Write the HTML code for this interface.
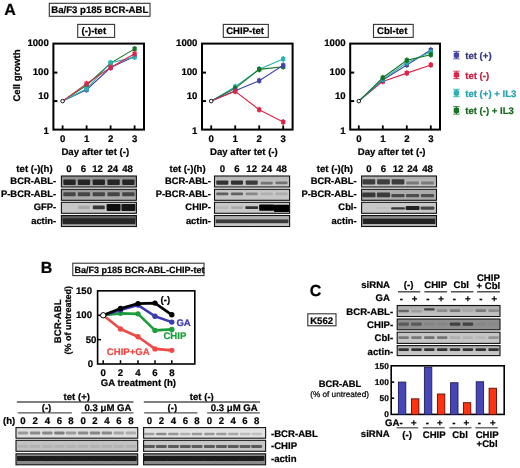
<!DOCTYPE html>
<html><head><meta charset="utf-8"><style>
html,body{margin:0;padding:0;background:#fff;}
svg{display:block;font-family:"Liberation Sans", sans-serif;filter:blur(0.3px);text-rendering:geometricPrecision;}
</style></head><body>
<svg width="520" height="468" viewBox="0 0 520 468">
<defs><filter id="bl" x="-20%" y="-50%" width="140%" height="200%"><feGaussianBlur stdDeviation="0.7"/></filter></defs>
<rect width="520" height="468" fill="#fff"/>
<text x="4.3" y="15.2" font-size="16" text-anchor="start" font-weight="bold" fill="#000" stroke="#000" stroke-width="0.22" >A</text>
<rect x="49.3" y="3.3" width="100.7" height="13.0" fill="#fff" stroke="#333" stroke-width="1.1"/>
<text x="51.3" y="13.4" font-size="9.6" text-anchor="start" font-weight="bold" fill="#000" stroke="#000" stroke-width="0.22" >Ba/F3 p185 BCR-ABL</text>
<rect x="77.7" y="24.4" width="36.89999999999999" height="13.0" fill="#fff" stroke="#333" stroke-width="1.1"/>
<text x="81.6" y="34.1" font-size="9.6" text-anchor="start" font-weight="bold" fill="#000" stroke="#000" stroke-width="0.22" >(-)-tet</text>
<rect x="53.4" y="43.6" width="90.6" height="86.0" fill="none" stroke="#000" stroke-width="2"/>
<line x1="53.4" y1="72.60" x2="57.4" y2="72.60" stroke="#000" stroke-width="2"/>
<line x1="53.4" y1="101.10" x2="57.4" y2="101.10" stroke="#000" stroke-width="2"/>
<line x1="62.60" y1="129.6" x2="62.60" y2="125.39999999999999" stroke="#000" stroke-width="1.8"/>
<line x1="86.60" y1="129.6" x2="86.60" y2="125.39999999999999" stroke="#000" stroke-width="1.8"/>
<line x1="110.60" y1="129.6" x2="110.60" y2="125.39999999999999" stroke="#000" stroke-width="1.8"/>
<line x1="134.60" y1="129.6" x2="134.60" y2="125.39999999999999" stroke="#000" stroke-width="1.8"/>
<text x="48.8" y="45.5" font-size="9.6" text-anchor="end" font-weight="bold" fill="#000" stroke="#000" stroke-width="0.22" >1000</text>
<text x="48.8" y="74.9" font-size="9.6" text-anchor="end" font-weight="bold" fill="#000" stroke="#000" stroke-width="0.22" >100</text>
<text x="48.8" y="99.4" font-size="9.6" text-anchor="end" font-weight="bold" fill="#000" stroke="#000" stroke-width="0.22" >10</text>
<text x="48.8" y="134.2" font-size="9.6" text-anchor="end" font-weight="bold" fill="#000" stroke="#000" stroke-width="0.22" >1</text>
<text x="62.599999999999994" y="141.9" font-size="9.6" text-anchor="middle" font-weight="bold" fill="#000" stroke="#000" stroke-width="0.22" >0</text>
<text x="86.6" y="141.9" font-size="9.6" text-anchor="middle" font-weight="bold" fill="#000" stroke="#000" stroke-width="0.22" >1</text>
<text x="110.6" y="141.9" font-size="9.6" text-anchor="middle" font-weight="bold" fill="#000" stroke="#000" stroke-width="0.22" >2</text>
<text x="134.6" y="141.9" font-size="9.6" text-anchor="middle" font-weight="bold" fill="#000" stroke="#000" stroke-width="0.22" >3</text>
<text x="95.3" y="154.6" font-size="9.6" text-anchor="middle" font-weight="bold" fill="#000" stroke="#000" stroke-width="0.22" >Day after tet (-)</text>
<polyline points="62.60,101.10 86.60,89.76 110.60,67.58 134.60,56.41" fill="none" stroke="#4444a8" stroke-width="1.1"/>
<polyline points="62.60,101.10 86.60,85.25 110.60,63.13 134.60,48.87" fill="none" stroke="#147420" stroke-width="1.1"/>
<polyline points="62.60,101.10 86.60,88.81 110.60,62.73 134.60,57.09" fill="none" stroke="#28b2b2" stroke-width="1.1"/>
<polyline points="62.60,101.10 86.60,83.64 110.60,67.50 134.60,53.71" fill="none" stroke="#e02448" stroke-width="1.1"/>
<rect x="85.90" y="86.86" width="1.4" height="5.8" fill="#4444a8"/>
<rect x="84.50" y="87.66" width="4.2" height="4.2" fill="#4444a8"/>
<rect x="109.90" y="64.68" width="1.4" height="5.8" fill="#4444a8"/>
<rect x="108.50" y="65.48" width="4.2" height="4.2" fill="#4444a8"/>
<rect x="133.90" y="53.51" width="1.4" height="5.8" fill="#4444a8"/>
<rect x="132.50" y="54.31" width="4.2" height="4.2" fill="#4444a8"/>
<rect x="85.90" y="82.35" width="1.4" height="5.8" fill="#147420"/>
<rect x="84.50" y="83.15" width="4.2" height="4.2" fill="#147420"/>
<rect x="109.90" y="60.23" width="1.4" height="5.8" fill="#147420"/>
<rect x="108.50" y="61.03" width="4.2" height="4.2" fill="#147420"/>
<rect x="133.90" y="45.97" width="1.4" height="5.8" fill="#147420"/>
<rect x="132.50" y="46.77" width="4.2" height="4.2" fill="#147420"/>
<rect x="85.90" y="85.91" width="1.4" height="5.8" fill="#28b2b2"/>
<rect x="84.50" y="86.71" width="4.2" height="4.2" fill="#28b2b2"/>
<rect x="109.90" y="59.83" width="1.4" height="5.8" fill="#28b2b2"/>
<rect x="108.50" y="60.63" width="4.2" height="4.2" fill="#28b2b2"/>
<rect x="133.90" y="54.19" width="1.4" height="5.8" fill="#28b2b2"/>
<rect x="132.50" y="54.99" width="4.2" height="4.2" fill="#28b2b2"/>
<rect x="85.90" y="80.74" width="1.4" height="5.8" fill="#e02448"/>
<rect x="84.50" y="81.54" width="4.2" height="4.2" fill="#e02448"/>
<rect x="109.90" y="64.60" width="1.4" height="5.8" fill="#e02448"/>
<rect x="108.50" y="65.40" width="4.2" height="4.2" fill="#e02448"/>
<rect x="133.90" y="50.81" width="1.4" height="5.8" fill="#e02448"/>
<rect x="132.50" y="51.61" width="4.2" height="4.2" fill="#e02448"/>
<circle cx="62.60" cy="101.10" r="1.8" fill="#fff" stroke="#000" stroke-width="0.9"/>
<rect x="223.3" y="24.4" width="45.0" height="13.0" fill="#fff" stroke="#333" stroke-width="1.1"/>
<text x="226.2" y="34.1" font-size="9.6" text-anchor="start" font-weight="bold" fill="#000" stroke="#000" stroke-width="0.22" >CHIP-tet</text>
<rect x="202.0" y="43.6" width="90.60000000000002" height="86.0" fill="none" stroke="#000" stroke-width="2"/>
<line x1="202.0" y1="72.60" x2="206.0" y2="72.60" stroke="#000" stroke-width="2"/>
<line x1="202.0" y1="101.10" x2="206.0" y2="101.10" stroke="#000" stroke-width="2"/>
<line x1="211.20" y1="129.6" x2="211.20" y2="125.39999999999999" stroke="#000" stroke-width="1.8"/>
<line x1="235.20" y1="129.6" x2="235.20" y2="125.39999999999999" stroke="#000" stroke-width="1.8"/>
<line x1="259.20" y1="129.6" x2="259.20" y2="125.39999999999999" stroke="#000" stroke-width="1.8"/>
<line x1="283.20" y1="129.6" x2="283.20" y2="125.39999999999999" stroke="#000" stroke-width="1.8"/>
<text x="197.4" y="45.5" font-size="9.6" text-anchor="end" font-weight="bold" fill="#000" stroke="#000" stroke-width="0.22" >1000</text>
<text x="197.4" y="74.9" font-size="9.6" text-anchor="end" font-weight="bold" fill="#000" stroke="#000" stroke-width="0.22" >100</text>
<text x="197.4" y="99.4" font-size="9.6" text-anchor="end" font-weight="bold" fill="#000" stroke="#000" stroke-width="0.22" >10</text>
<text x="197.4" y="134.2" font-size="9.6" text-anchor="end" font-weight="bold" fill="#000" stroke="#000" stroke-width="0.22" >1</text>
<text x="211.2" y="141.9" font-size="9.6" text-anchor="middle" font-weight="bold" fill="#000" stroke="#000" stroke-width="0.22" >0</text>
<text x="235.2" y="141.9" font-size="9.6" text-anchor="middle" font-weight="bold" fill="#000" stroke="#000" stroke-width="0.22" >1</text>
<text x="259.2" y="141.9" font-size="9.6" text-anchor="middle" font-weight="bold" fill="#000" stroke="#000" stroke-width="0.22" >2</text>
<text x="283.2" y="141.9" font-size="9.6" text-anchor="middle" font-weight="bold" fill="#000" stroke="#000" stroke-width="0.22" >3</text>
<text x="243.9" y="154.6" font-size="9.6" text-anchor="middle" font-weight="bold" fill="#000" stroke="#000" stroke-width="0.22" >Day after tet (-)</text>
<polyline points="211.20,101.10 235.20,86.70 259.20,69.35 283.20,59.00" fill="none" stroke="#28b2b2" stroke-width="1.1"/>
<polyline points="211.20,101.10 235.20,88.36 259.20,69.35 283.20,66.78" fill="none" stroke="#147420" stroke-width="1.1"/>
<polyline points="211.20,101.10 235.20,90.79 259.20,80.69 283.20,65.32" fill="none" stroke="#4444a8" stroke-width="1.1"/>
<polyline points="211.20,101.10 235.20,91.34 259.20,109.68 283.20,121.99" fill="none" stroke="#e02448" stroke-width="1.1"/>
<rect x="234.50" y="83.80" width="1.4" height="5.8" fill="#28b2b2"/>
<rect x="233.10" y="84.60" width="4.2" height="4.2" fill="#28b2b2"/>
<rect x="258.50" y="66.45" width="1.4" height="5.8" fill="#28b2b2"/>
<rect x="257.10" y="67.25" width="4.2" height="4.2" fill="#28b2b2"/>
<rect x="282.50" y="56.10" width="1.4" height="5.8" fill="#28b2b2"/>
<rect x="281.10" y="56.90" width="4.2" height="4.2" fill="#28b2b2"/>
<rect x="234.50" y="85.46" width="1.4" height="5.8" fill="#147420"/>
<rect x="233.10" y="86.26" width="4.2" height="4.2" fill="#147420"/>
<rect x="258.50" y="66.45" width="1.4" height="5.8" fill="#147420"/>
<rect x="257.10" y="67.25" width="4.2" height="4.2" fill="#147420"/>
<rect x="282.50" y="63.88" width="1.4" height="5.8" fill="#147420"/>
<rect x="281.10" y="64.68" width="4.2" height="4.2" fill="#147420"/>
<rect x="234.50" y="87.89" width="1.4" height="5.8" fill="#4444a8"/>
<rect x="233.10" y="88.69" width="4.2" height="4.2" fill="#4444a8"/>
<rect x="258.50" y="77.79" width="1.4" height="5.8" fill="#4444a8"/>
<rect x="257.10" y="78.59" width="4.2" height="4.2" fill="#4444a8"/>
<rect x="282.50" y="62.42" width="1.4" height="5.8" fill="#4444a8"/>
<rect x="281.10" y="63.22" width="4.2" height="4.2" fill="#4444a8"/>
<rect x="234.50" y="88.44" width="1.4" height="5.8" fill="#e02448"/>
<rect x="233.10" y="89.24" width="4.2" height="4.2" fill="#e02448"/>
<rect x="258.50" y="106.78" width="1.4" height="5.8" fill="#e02448"/>
<rect x="257.10" y="107.58" width="4.2" height="4.2" fill="#e02448"/>
<rect x="282.50" y="119.09" width="1.4" height="5.8" fill="#e02448"/>
<rect x="281.10" y="119.89" width="4.2" height="4.2" fill="#e02448"/>
<circle cx="211.20" cy="101.10" r="1.8" fill="#fff" stroke="#000" stroke-width="0.9"/>
<rect x="373.5" y="24.4" width="39.69999999999999" height="13.0" fill="#fff" stroke="#333" stroke-width="1.1"/>
<text x="377.0" y="34.1" font-size="9.6" text-anchor="start" font-weight="bold" fill="#000" stroke="#000" stroke-width="0.22" >Cbl-tet</text>
<rect x="350.2" y="43.6" width="89.80000000000001" height="86.0" fill="none" stroke="#000" stroke-width="2"/>
<line x1="350.2" y1="72.60" x2="354.2" y2="72.60" stroke="#000" stroke-width="2"/>
<line x1="350.2" y1="101.10" x2="354.2" y2="101.10" stroke="#000" stroke-width="2"/>
<line x1="358.80" y1="129.6" x2="358.80" y2="125.39999999999999" stroke="#000" stroke-width="1.8"/>
<line x1="382.80" y1="129.6" x2="382.80" y2="125.39999999999999" stroke="#000" stroke-width="1.8"/>
<line x1="406.80" y1="129.6" x2="406.80" y2="125.39999999999999" stroke="#000" stroke-width="1.8"/>
<line x1="430.80" y1="129.6" x2="430.80" y2="125.39999999999999" stroke="#000" stroke-width="1.8"/>
<text x="345.59999999999997" y="45.5" font-size="9.6" text-anchor="end" font-weight="bold" fill="#000" stroke="#000" stroke-width="0.22" >1000</text>
<text x="345.59999999999997" y="74.9" font-size="9.6" text-anchor="end" font-weight="bold" fill="#000" stroke="#000" stroke-width="0.22" >100</text>
<text x="345.59999999999997" y="99.4" font-size="9.6" text-anchor="end" font-weight="bold" fill="#000" stroke="#000" stroke-width="0.22" >10</text>
<text x="345.59999999999997" y="134.2" font-size="9.6" text-anchor="end" font-weight="bold" fill="#000" stroke="#000" stroke-width="0.22" >1</text>
<text x="358.8" y="141.9" font-size="9.6" text-anchor="middle" font-weight="bold" fill="#000" stroke="#000" stroke-width="0.22" >0</text>
<text x="382.8" y="141.9" font-size="9.6" text-anchor="middle" font-weight="bold" fill="#000" stroke="#000" stroke-width="0.22" >1</text>
<text x="406.8" y="141.9" font-size="9.6" text-anchor="middle" font-weight="bold" fill="#000" stroke="#000" stroke-width="0.22" >2</text>
<text x="430.8" y="141.9" font-size="9.6" text-anchor="middle" font-weight="bold" fill="#000" stroke="#000" stroke-width="0.22" >3</text>
<text x="391.70000000000005" y="154.6" font-size="9.6" text-anchor="middle" font-weight="bold" fill="#000" stroke="#000" stroke-width="0.22" >Day after tet (-)</text>
<polyline points="358.80,101.10 382.80,81.43 406.80,73.11 430.80,64.92" fill="none" stroke="#e02448" stroke-width="1.1"/>
<polyline points="358.80,101.10 382.80,80.00 406.80,64.92 430.80,50.02" fill="none" stroke="#4444a8" stroke-width="1.1"/>
<polyline points="358.80,101.10 382.80,79.34 406.80,62.56 430.80,52.10" fill="none" stroke="#28b2b2" stroke-width="1.1"/>
<polyline points="358.80,101.10 382.80,77.74 406.80,60.31 430.80,54.69" fill="none" stroke="#147420" stroke-width="1.1"/>
<rect x="382.10" y="78.53" width="1.4" height="5.8" fill="#e02448"/>
<rect x="380.70" y="79.33" width="4.2" height="4.2" fill="#e02448"/>
<rect x="406.10" y="70.21" width="1.4" height="5.8" fill="#e02448"/>
<rect x="404.70" y="71.01" width="4.2" height="4.2" fill="#e02448"/>
<rect x="430.10" y="62.02" width="1.4" height="5.8" fill="#e02448"/>
<rect x="428.70" y="62.82" width="4.2" height="4.2" fill="#e02448"/>
<rect x="382.10" y="77.10" width="1.4" height="5.8" fill="#4444a8"/>
<rect x="380.70" y="77.90" width="4.2" height="4.2" fill="#4444a8"/>
<rect x="406.10" y="62.02" width="1.4" height="5.8" fill="#4444a8"/>
<rect x="404.70" y="62.82" width="4.2" height="4.2" fill="#4444a8"/>
<rect x="430.10" y="47.12" width="1.4" height="5.8" fill="#4444a8"/>
<rect x="428.70" y="47.92" width="4.2" height="4.2" fill="#4444a8"/>
<rect x="382.10" y="76.44" width="1.4" height="5.8" fill="#28b2b2"/>
<rect x="380.70" y="77.24" width="4.2" height="4.2" fill="#28b2b2"/>
<rect x="406.10" y="59.66" width="1.4" height="5.8" fill="#28b2b2"/>
<rect x="404.70" y="60.46" width="4.2" height="4.2" fill="#28b2b2"/>
<rect x="430.10" y="49.20" width="1.4" height="5.8" fill="#28b2b2"/>
<rect x="428.70" y="50.00" width="4.2" height="4.2" fill="#28b2b2"/>
<rect x="382.10" y="74.84" width="1.4" height="5.8" fill="#147420"/>
<rect x="380.70" y="75.64" width="4.2" height="4.2" fill="#147420"/>
<rect x="406.10" y="57.41" width="1.4" height="5.8" fill="#147420"/>
<rect x="404.70" y="58.21" width="4.2" height="4.2" fill="#147420"/>
<rect x="430.10" y="51.79" width="1.4" height="5.8" fill="#147420"/>
<rect x="428.70" y="52.59" width="4.2" height="4.2" fill="#147420"/>
<circle cx="358.80" cy="101.10" r="1.8" fill="#fff" stroke="#000" stroke-width="0.9"/>
<text transform="translate(20.0,101.6) rotate(-90)" font-size="9.6" font-weight="bold" stroke="#000" stroke-width="0.22">Cell growth</text>
<line x1="453.2" y1="51.40" x2="459.6" y2="51.40" stroke="#4444a8" stroke-width="0.9"/>
<line x1="453.2" y1="58.80" x2="459.6" y2="58.80" stroke="#4444a8" stroke-width="0.9"/>
<line x1="456.4" y1="51.40" x2="456.4" y2="58.80" stroke="#4444a8" stroke-width="1.2"/>
<rect x="453.7" y="52.40" width="5.4" height="5.4" rx="1.4" fill="#4444a8"/>
<text x="465.2" y="58.7" font-size="9.6" text-anchor="start" font-weight="bold" fill="#36367e" stroke="#36367e" stroke-width="0.22" >tet (+)</text>
<line x1="453.2" y1="71.20" x2="459.6" y2="71.20" stroke="#e02448" stroke-width="0.9"/>
<line x1="453.2" y1="78.60" x2="459.6" y2="78.60" stroke="#e02448" stroke-width="0.9"/>
<line x1="456.4" y1="71.20" x2="456.4" y2="78.60" stroke="#e02448" stroke-width="1.2"/>
<rect x="453.7" y="72.20" width="5.4" height="5.4" rx="1.4" fill="#e02448"/>
<text x="465.2" y="78.5" font-size="9.6" text-anchor="start" font-weight="bold" fill="#c81a3a" stroke="#c81a3a" stroke-width="0.22" >tet (-)</text>
<line x1="453.2" y1="89.30" x2="459.6" y2="89.30" stroke="#28b2b2" stroke-width="0.9"/>
<line x1="453.2" y1="96.70" x2="459.6" y2="96.70" stroke="#28b2b2" stroke-width="0.9"/>
<line x1="456.4" y1="89.30" x2="456.4" y2="96.70" stroke="#28b2b2" stroke-width="1.2"/>
<rect x="453.7" y="90.30" width="5.4" height="5.4" rx="1.4" fill="#28b2b2"/>
<text x="465.2" y="96.6" font-size="9.6" text-anchor="start" font-weight="bold" fill="#26a2aa" stroke="#26a2aa" stroke-width="0.22" >tet (+) + IL3</text>
<line x1="453.2" y1="106.70" x2="459.6" y2="106.70" stroke="#147420" stroke-width="0.9"/>
<line x1="453.2" y1="114.10" x2="459.6" y2="114.10" stroke="#147420" stroke-width="0.9"/>
<line x1="456.4" y1="106.70" x2="456.4" y2="114.10" stroke="#147420" stroke-width="1.2"/>
<rect x="453.7" y="107.70" width="5.4" height="5.4" rx="1.4" fill="#147420"/>
<text x="465.2" y="114.0" font-size="9.6" text-anchor="start" font-weight="bold" fill="#166a1e" stroke="#166a1e" stroke-width="0.22" >tet (-) + IL3</text>
<linearGradient id="g1" x1="0" y1="0" x2="0" y2="1"><stop offset="0" stop-color="#8c8c8c"/><stop offset="1" stop-color="#ababab"/></linearGradient>
<rect x="61.4" y="176.0" width="75.0" height="11.0" fill="url(#g1)"/>
<g filter="url(#bl)">
<rect x="63.35" y="179.40" width="12.30" height="5.60" rx="0.80" fill="#262626"/>
<rect x="77.85" y="179.40" width="12.30" height="5.60" rx="0.80" fill="#262626"/>
<rect x="92.65" y="179.40" width="12.30" height="5.60" rx="0.80" fill="#262626"/>
<rect x="107.45" y="179.40" width="12.30" height="5.60" rx="0.80" fill="#262626"/>
<rect x="122.25" y="179.40" width="12.30" height="5.60" rx="0.80" fill="#262626"/>
</g>
<rect x="61.4" y="176.0" width="75.0" height="11.0" fill="none" stroke="#111" stroke-width="1.1"/>
<text x="56.2" y="184.0" font-size="9.4" text-anchor="end" font-weight="bold" fill="#000" stroke="#000" stroke-width="0.22" >BCR-ABL-</text>
<linearGradient id="g2" x1="0" y1="0" x2="0" y2="1"><stop offset="0" stop-color="#969696"/><stop offset="1" stop-color="#b0b0b0"/></linearGradient>
<rect x="61.4" y="189.3" width="75.0" height="11.0" fill="url(#g2)"/>
<g filter="url(#bl)">
<rect x="63.35" y="192.30" width="12.30" height="4.00" rx="0.80" fill="#444"/>
<rect x="77.85" y="192.30" width="12.30" height="4.00" rx="0.80" fill="#444"/>
<rect x="92.65" y="192.30" width="12.30" height="4.00" rx="0.80" fill="#444"/>
<rect x="107.45" y="192.30" width="12.30" height="4.00" rx="0.80" fill="#444"/>
<rect x="122.25" y="192.30" width="12.30" height="4.00" rx="0.80" fill="#444"/>
</g>
<rect x="61.4" y="189.3" width="75.0" height="11.0" fill="none" stroke="#111" stroke-width="1.1"/>
<text x="56.2" y="197.3" font-size="9.4" text-anchor="end" font-weight="bold" fill="#000" stroke="#000" stroke-width="0.22" >P-BCR-ABL-</text>
<rect x="61.4" y="202.3" width="75.0" height="11.0" fill="#c6c6c6"/>
<g filter="url(#bl)">
<rect x="78.18" y="205.72" width="11.64" height="3.36" rx="0.80" fill="#a8a8a8"/>
<rect x="92.83" y="205.44" width="11.93" height="3.92" rx="0.80" fill="#363636"/>
<rect x="106.62" y="203.90" width="13.97" height="7.00" rx="0.80" fill="#101010"/>
<rect x="121.42" y="203.90" width="13.97" height="7.00" rx="0.80" fill="#121212"/>
</g>
<rect x="61.4" y="202.3" width="75.0" height="11.0" fill="none" stroke="#111" stroke-width="1.1"/>
<text x="56.2" y="210.3" font-size="9.4" text-anchor="end" font-weight="bold" fill="#000" stroke="#000" stroke-width="0.22" >GFP-</text>
<linearGradient id="g3" x1="0" y1="0" x2="0" y2="1"><stop offset="0" stop-color="#555"/><stop offset="0.5" stop-color="#777"/><stop offset="1" stop-color="#bcbcbc"/></linearGradient>
<rect x="61.4" y="215.5" width="75.0" height="11.0" fill="url(#g3)"/>
<g filter="url(#bl)">
<rect x="62.6" y="218.20" width="72.60" height="6.00" fill="#262626"/>
</g>
<rect x="61.4" y="215.5" width="75.0" height="11.0" fill="none" stroke="#111" stroke-width="1.1"/>
<text x="56.2" y="223.5" font-size="9.4" text-anchor="end" font-weight="bold" fill="#000" stroke="#000" stroke-width="0.22" >actin-</text>
<text x="52.6" y="171.8" font-size="9.6" text-anchor="end" font-weight="bold" fill="#000" stroke="#000" stroke-width="0.22" >tet (-)(h)</text>
<text x="68.9" y="171.8" font-size="9.6" text-anchor="middle" font-weight="bold" fill="#000" stroke="#000" stroke-width="0.22" >0</text>
<text x="83.5" y="171.8" font-size="9.6" text-anchor="middle" font-weight="bold" fill="#000" stroke="#000" stroke-width="0.22" >6</text>
<text x="97.5" y="171.8" font-size="9.6" text-anchor="middle" font-weight="bold" fill="#000" stroke="#000" stroke-width="0.22" >12</text>
<text x="112.8" y="171.8" font-size="9.6" text-anchor="middle" font-weight="bold" fill="#000" stroke="#000" stroke-width="0.22" >24</text>
<text x="127.5" y="171.8" font-size="9.6" text-anchor="middle" font-weight="bold" fill="#000" stroke="#000" stroke-width="0.22" >48</text>
<linearGradient id="g4" x1="0" y1="0" x2="0" y2="1"><stop offset="0" stop-color="#b4b4b4"/><stop offset="1" stop-color="#cacaca"/></linearGradient>
<rect x="214.5" y="176.0" width="75.10000000000002" height="11.0" fill="url(#g4)"/>
<g filter="url(#bl)">
<rect x="216.29" y="180.50" width="12.02" height="4.20" rx="0.80" fill="#333"/>
<rect x="230.99" y="180.50" width="12.02" height="4.20" rx="0.80" fill="#333"/>
<rect x="245.69" y="180.50" width="12.02" height="4.20" rx="0.80" fill="#3a3a3a"/>
<rect x="260.69" y="181.63" width="12.02" height="2.94" rx="0.80" fill="#747474"/>
<rect x="275.49" y="181.43" width="12.02" height="2.94" rx="0.80" fill="#727272"/>
</g>
<rect x="214.5" y="176.0" width="75.10000000000002" height="11.0" fill="none" stroke="#111" stroke-width="1.1"/>
<text x="210.9" y="184.0" font-size="9.4" text-anchor="end" font-weight="bold" fill="#000" stroke="#000" stroke-width="0.22" >BCR-ABL-</text>
<rect x="214.5" y="189.3" width="75.10000000000002" height="11.0" fill="#c6c6c6"/>
<g filter="url(#bl)">
<rect x="216.29" y="192.40" width="12.02" height="2.80" rx="0.80" fill="#5e5e5e"/>
<rect x="230.99" y="192.40" width="12.02" height="2.80" rx="0.80" fill="#626262"/>
<rect x="245.69" y="192.40" width="12.02" height="2.80" rx="0.80" fill="#888"/>
<rect x="260.69" y="192.40" width="12.02" height="2.80" rx="0.80" fill="#b0b0b0"/>
<rect x="275.49" y="192.40" width="12.02" height="2.80" rx="0.80" fill="#acacac"/>
</g>
<rect x="214.5" y="189.3" width="75.10000000000002" height="11.0" fill="none" stroke="#111" stroke-width="1.1"/>
<text x="210.9" y="197.3" font-size="9.4" text-anchor="end" font-weight="bold" fill="#000" stroke="#000" stroke-width="0.22" >P-BCR-ABL-</text>
<rect x="214.5" y="202.3" width="75.10000000000002" height="11.0" fill="#c8c8c8"/>
<g filter="url(#bl)">
<rect x="216.29" y="206.32" width="12.02" height="2.56" rx="0.80" fill="#b8b8b8"/>
<rect x="230.99" y="206.32" width="12.02" height="2.56" rx="0.80" fill="#aaaaaa"/>
<rect x="245.32" y="206.16" width="12.77" height="2.88" rx="0.80" fill="#303030"/>
<rect x="259.19" y="204.40" width="15.02" height="6.40" rx="0.80" fill="#030303"/>
<rect x="273.99" y="204.72" width="15.02" height="7.36" rx="0.80" fill="#000"/>
</g>
<rect x="214.5" y="202.3" width="75.10000000000002" height="11.0" fill="none" stroke="#111" stroke-width="1.1"/>
<text x="210.9" y="210.3" font-size="9.4" text-anchor="end" font-weight="bold" fill="#000" stroke="#000" stroke-width="0.22" >CHIP-</text>
<linearGradient id="g5" x1="0" y1="0" x2="0" y2="1"><stop offset="0" stop-color="#a8a8a8"/><stop offset="1" stop-color="#cccccc"/></linearGradient>
<rect x="214.5" y="215.5" width="75.10000000000002" height="11.0" fill="url(#g5)"/>
<g filter="url(#bl)">
<rect x="215.7" y="219.40" width="72.70" height="3.80" fill="#3a3a3a"/>
</g>
<rect x="214.5" y="215.5" width="75.10000000000002" height="11.0" fill="none" stroke="#111" stroke-width="1.1"/>
<text x="210.9" y="223.5" font-size="9.4" text-anchor="end" font-weight="bold" fill="#000" stroke="#000" stroke-width="0.22" >actin-</text>
<text x="205.7" y="171.8" font-size="9.6" text-anchor="end" font-weight="bold" fill="#000" stroke="#000" stroke-width="0.22" >tet (-)(h)</text>
<text x="222.3" y="171.8" font-size="9.6" text-anchor="middle" font-weight="bold" fill="#000" stroke="#000" stroke-width="0.22" >0</text>
<text x="237.0" y="171.8" font-size="9.6" text-anchor="middle" font-weight="bold" fill="#000" stroke="#000" stroke-width="0.22" >6</text>
<text x="251.7" y="171.8" font-size="9.6" text-anchor="middle" font-weight="bold" fill="#000" stroke="#000" stroke-width="0.22" >12</text>
<text x="266.7" y="171.8" font-size="9.6" text-anchor="middle" font-weight="bold" fill="#000" stroke="#000" stroke-width="0.22" >24</text>
<text x="281.5" y="171.8" font-size="9.6" text-anchor="middle" font-weight="bold" fill="#000" stroke="#000" stroke-width="0.22" >48</text>
<linearGradient id="g6" x1="0" y1="0" x2="0" y2="1"><stop offset="0" stop-color="#aaaaaa"/><stop offset="1" stop-color="#c4c4c4"/></linearGradient>
<rect x="361.6" y="176.0" width="74.89999999999998" height="11.0" fill="url(#g6)"/>
<g filter="url(#bl)">
<rect x="362.53" y="179.20" width="12.73" height="5.20" rx="0.80" fill="#3c3c3c"/>
<rect x="377.13" y="179.20" width="12.73" height="5.20" rx="0.80" fill="#404040"/>
<rect x="391.63" y="179.20" width="12.73" height="5.20" rx="0.80" fill="#3c3c3c"/>
<rect x="406.23" y="181.44" width="12.73" height="3.12" rx="0.80" fill="#787878"/>
<rect x="421.13" y="181.44" width="12.73" height="3.12" rx="0.80" fill="#7a7a7a"/>
</g>
<rect x="361.6" y="176.0" width="74.89999999999998" height="11.0" fill="none" stroke="#111" stroke-width="1.1"/>
<text x="356.6" y="184.0" font-size="9.4" text-anchor="end" font-weight="bold" fill="#000" stroke="#000" stroke-width="0.22" >BCR-ABL-</text>
<rect x="361.6" y="189.3" width="74.89999999999998" height="11.0" fill="#acacac"/>
<g filter="url(#bl)">
<rect x="362.31" y="192.60" width="13.18" height="4.60" rx="0.80" fill="#383838"/>
<rect x="376.91" y="192.60" width="13.18" height="4.60" rx="0.80" fill="#3a3a3a"/>
<rect x="391.41" y="194.09" width="13.18" height="3.22" rx="0.80" fill="#4a4a4a"/>
<rect x="406.01" y="194.09" width="13.18" height="3.22" rx="0.80" fill="#4e4e4e"/>
<rect x="420.91" y="194.09" width="13.18" height="3.22" rx="0.80" fill="#505050"/>
</g>
<rect x="361.6" y="189.3" width="74.89999999999998" height="11.0" fill="none" stroke="#111" stroke-width="1.1"/>
<text x="356.6" y="197.3" font-size="9.4" text-anchor="end" font-weight="bold" fill="#000" stroke="#000" stroke-width="0.22" >P-BCR-ABL-</text>
<rect x="361.6" y="202.3" width="74.89999999999998" height="11.0" fill="#c8c8c8"/>
<g filter="url(#bl)">
<rect x="376.61" y="206.95" width="13.78" height="2.10" rx="0.80" fill="#c0c0c0"/>
<rect x="391.11" y="207.20" width="13.78" height="2.40" rx="0.80" fill="#383838"/>
<rect x="405.71" y="206.05" width="13.78" height="3.90" rx="0.80" fill="#222"/>
<rect x="420.61" y="206.55" width="13.78" height="3.30" rx="0.80" fill="#464646"/>
</g>
<rect x="361.6" y="202.3" width="74.89999999999998" height="11.0" fill="none" stroke="#111" stroke-width="1.1"/>
<text x="356.6" y="210.3" font-size="9.4" text-anchor="end" font-weight="bold" fill="#000" stroke="#000" stroke-width="0.22" >Cbl-</text>
<linearGradient id="g7" x1="0" y1="0" x2="0" y2="1"><stop offset="0" stop-color="#808080"/><stop offset="1" stop-color="#bcbcbc"/></linearGradient>
<rect x="361.6" y="215.5" width="74.89999999999998" height="11.0" fill="url(#g7)"/>
<g filter="url(#bl)">
<rect x="362.8" y="218.60" width="72.50" height="5.40" fill="#232323"/>
</g>
<rect x="361.6" y="215.5" width="74.89999999999998" height="11.0" fill="none" stroke="#111" stroke-width="1.1"/>
<text x="356.6" y="223.5" font-size="9.4" text-anchor="end" font-weight="bold" fill="#000" stroke="#000" stroke-width="0.22" >actin-</text>
<text x="353.0" y="171.8" font-size="9.6" text-anchor="end" font-weight="bold" fill="#000" stroke="#000" stroke-width="0.22" >tet (-)(h)</text>
<text x="368.9" y="171.8" font-size="9.6" text-anchor="middle" font-weight="bold" fill="#000" stroke="#000" stroke-width="0.22" >0</text>
<text x="383.5" y="171.8" font-size="9.6" text-anchor="middle" font-weight="bold" fill="#000" stroke="#000" stroke-width="0.22" >6</text>
<text x="398.0" y="171.8" font-size="9.6" text-anchor="middle" font-weight="bold" fill="#000" stroke="#000" stroke-width="0.22" >12</text>
<text x="412.6" y="171.8" font-size="9.6" text-anchor="middle" font-weight="bold" fill="#000" stroke="#000" stroke-width="0.22" >24</text>
<text x="427.5" y="171.8" font-size="9.6" text-anchor="middle" font-weight="bold" fill="#000" stroke="#000" stroke-width="0.22" >48</text>
<text x="40.8" y="272.6" font-size="16" text-anchor="start" font-weight="bold" fill="#000" stroke="#000" stroke-width="0.22" >B</text>
<rect x="72.8" y="263.2" width="131.2" height="12.400000000000034" fill="#fff" stroke="#333" stroke-width="1.1"/>
<text x="74.4" y="272.6" font-size="9.05" text-anchor="start" font-weight="bold" fill="#000" stroke="#000" stroke-width="0.22" >Ba/F3 p185 BCR-ABL-CHIP-tet</text>
<rect x="97.6" y="290.85" width="97.20000000000002" height="73.14999999999998" fill="none" stroke="#000" stroke-width="1.6"/>
<line x1="97.6" y1="315.30" x2="101.0" y2="315.30" stroke="#000" stroke-width="1.5"/>
<line x1="97.6" y1="339.65" x2="101.0" y2="339.65" stroke="#000" stroke-width="1.5"/>
<line x1="103.2" y1="364.0" x2="103.2" y2="360.2" stroke="#000" stroke-width="1.5"/>
<line x1="120.5" y1="364.0" x2="120.5" y2="360.2" stroke="#000" stroke-width="1.5"/>
<line x1="138.0" y1="364.0" x2="138.0" y2="360.2" stroke="#000" stroke-width="1.5"/>
<line x1="155.0" y1="364.0" x2="155.0" y2="360.2" stroke="#000" stroke-width="1.5"/>
<line x1="171.8" y1="364.0" x2="171.8" y2="360.2" stroke="#000" stroke-width="1.5"/>
<text x="92.0" y="293.9" font-size="9.6" text-anchor="end" font-weight="bold" fill="#000" stroke="#000" stroke-width="0.22" >150</text>
<text x="92.0" y="318.4" font-size="9.6" text-anchor="end" font-weight="bold" fill="#000" stroke="#000" stroke-width="0.22" >100</text>
<text x="96.3" y="343.4" font-size="9.6" text-anchor="end" font-weight="bold" fill="#000" stroke="#000" stroke-width="0.22" >50</text>
<text x="93.0" y="366.9" font-size="9.6" text-anchor="end" font-weight="bold" fill="#000" stroke="#000" stroke-width="0.22" >0</text>
<text x="103.2" y="375.8" font-size="9.6" text-anchor="middle" font-weight="bold" fill="#000" stroke="#000" stroke-width="0.22" >0</text>
<text x="120.5" y="375.8" font-size="9.6" text-anchor="middle" font-weight="bold" fill="#000" stroke="#000" stroke-width="0.22" >2</text>
<text x="138.0" y="375.8" font-size="9.6" text-anchor="middle" font-weight="bold" fill="#000" stroke="#000" stroke-width="0.22" >4</text>
<text x="155.0" y="375.8" font-size="9.6" text-anchor="middle" font-weight="bold" fill="#000" stroke="#000" stroke-width="0.22" >6</text>
<text x="171.8" y="375.8" font-size="9.6" text-anchor="middle" font-weight="bold" fill="#000" stroke="#000" stroke-width="0.22" >8</text>
<text x="138.4" y="386.4" font-size="9.6" text-anchor="middle" font-weight="bold" fill="#000" stroke="#000" stroke-width="0.22" >GA treatment (h)</text>
<text transform="translate(60.6,343.2) rotate(-90)" font-size="9.6" font-weight="bold" stroke="#000" stroke-width="0.22">BCR-ABL</text>
<text transform="translate(70.8,354.6) rotate(-90)" font-size="9.0" font-weight="bold" stroke="#000" stroke-width="0.22">(% of untreated)</text>
<polyline points="103.2,315.30 120.5,328.94 138.0,336.73 155.0,348.90 171.8,350.36" fill="none" stroke="#ee4b48" stroke-width="2.6" stroke-linejoin="round"/>
<circle cx="120.5" cy="328.94" r="2.7" fill="#ee4b48"/>
<circle cx="138.0" cy="336.73" r="2.7" fill="#ee4b48"/>
<circle cx="155.0" cy="348.90" r="2.7" fill="#ee4b48"/>
<circle cx="171.8" cy="350.36" r="2.7" fill="#ee4b48"/>
<polyline points="103.2,315.30 120.5,313.35 138.0,313.84 155.0,330.40 171.8,329.42" fill="none" stroke="#1a9e3c" stroke-width="2.6" stroke-linejoin="round"/>
<circle cx="120.5" cy="313.35" r="2.7" fill="#1a9e3c"/>
<circle cx="138.0" cy="313.84" r="2.7" fill="#1a9e3c"/>
<circle cx="155.0" cy="330.40" r="2.7" fill="#1a9e3c"/>
<circle cx="171.8" cy="329.42" r="2.7" fill="#1a9e3c"/>
<polyline points="103.2,315.30 120.5,309.94 138.0,305.07 155.0,316.27 171.8,322.12" fill="none" stroke="#3b3bb0" stroke-width="2.6" stroke-linejoin="round"/>
<circle cx="120.5" cy="309.94" r="2.7" fill="#3b3bb0"/>
<circle cx="138.0" cy="305.07" r="2.7" fill="#3b3bb0"/>
<circle cx="155.0" cy="316.27" r="2.7" fill="#3b3bb0"/>
<circle cx="171.8" cy="322.12" r="2.7" fill="#3b3bb0"/>
<polyline points="103.2,315.30 120.5,308.48 138.0,303.61 155.0,303.12 171.8,314.81" fill="none" stroke="#000" stroke-width="2.6" stroke-linejoin="round"/>
<circle cx="120.5" cy="308.48" r="2.7" fill="#000"/>
<circle cx="138.0" cy="303.61" r="2.7" fill="#000"/>
<circle cx="155.0" cy="303.12" r="2.7" fill="#000"/>
<circle cx="171.8" cy="314.81" r="2.7" fill="#000"/>
<circle cx="103.2" cy="315.30" r="2.7" fill="#fff" stroke="#000" stroke-width="1"/>
<text x="160.6" y="302.6" font-size="9.6" text-anchor="start" font-weight="bold" fill="#000" stroke="#000" stroke-width="0.22" >(-)</text>
<text x="176.4" y="326.0" font-size="9.6" text-anchor="start" font-weight="bold" fill="#3b3bb0" stroke="#3b3bb0" stroke-width="0.22" >GA</text>
<text x="163.4" y="339.2" font-size="9.6" text-anchor="start" font-weight="bold" fill="#1a9e3c" stroke="#1a9e3c" stroke-width="0.22" >CHIP</text>
<text x="106.8" y="354.6" font-size="9.6" text-anchor="start" font-weight="bold" fill="#ee4b48" stroke="#ee4b48" stroke-width="0.22" >CHIP+GA</text>
<text x="76.8" y="400.4" font-size="9.6" text-anchor="middle" font-weight="bold" fill="#000" stroke="#000" stroke-width="0.22" >tet (+)</text>
<text x="201.8" y="400.4" font-size="9.6" text-anchor="middle" font-weight="bold" fill="#000" stroke="#000" stroke-width="0.22" >tet (-)</text>
<line x1="16.8" y1="402.0" x2="133.5" y2="402.0" stroke="#555" stroke-width="1.3"/>
<line x1="143.8" y1="402.0" x2="260.0" y2="402.0" stroke="#555" stroke-width="1.3"/>
<text x="46.5" y="410.8" font-size="9.6" text-anchor="middle" font-weight="bold" fill="#000" stroke="#000" stroke-width="0.22" >(-)</text>
<text x="108.0" y="410.8" font-size="9.6" text-anchor="middle" font-weight="bold" fill="#000" stroke="#000" stroke-width="0.22" >0.3 μM GA</text>
<text x="172.3" y="410.8" font-size="9.6" text-anchor="middle" font-weight="bold" fill="#000" stroke="#000" stroke-width="0.22" >(-)</text>
<text x="234.3" y="410.8" font-size="9.6" text-anchor="middle" font-weight="bold" fill="#000" stroke="#000" stroke-width="0.22" >0.3 μM GA</text>
<line x1="17.7" y1="412.9" x2="71.8" y2="412.9" stroke="#555" stroke-width="1.3"/>
<line x1="81.2" y1="412.9" x2="133.5" y2="412.9" stroke="#555" stroke-width="1.3"/>
<line x1="144.2" y1="412.9" x2="197.5" y2="412.9" stroke="#555" stroke-width="1.3"/>
<line x1="207.1" y1="412.9" x2="259.8" y2="412.9" stroke="#555" stroke-width="1.3"/>
<text x="3.0" y="423.8" font-size="9.6" text-anchor="start" font-weight="bold" fill="#000" stroke="#000" stroke-width="0.22" >(h)</text>
<text x="23.0" y="423.7" font-size="9.6" text-anchor="middle" font-weight="bold" fill="#000" stroke="#000" stroke-width="0.22" >0</text>
<text x="35.1" y="423.7" font-size="9.6" text-anchor="middle" font-weight="bold" fill="#000" stroke="#000" stroke-width="0.22" >2</text>
<text x="47.3" y="423.7" font-size="9.6" text-anchor="middle" font-weight="bold" fill="#000" stroke="#000" stroke-width="0.22" >4</text>
<text x="59.4" y="423.7" font-size="9.6" text-anchor="middle" font-weight="bold" fill="#000" stroke="#000" stroke-width="0.22" >6</text>
<text x="71.0" y="423.7" font-size="9.6" text-anchor="middle" font-weight="bold" fill="#000" stroke="#000" stroke-width="0.22" >8</text>
<text x="83.1" y="423.7" font-size="9.6" text-anchor="middle" font-weight="bold" fill="#000" stroke="#000" stroke-width="0.22" >0</text>
<text x="95.0" y="423.7" font-size="9.6" text-anchor="middle" font-weight="bold" fill="#000" stroke="#000" stroke-width="0.22" >2</text>
<text x="106.8" y="423.7" font-size="9.6" text-anchor="middle" font-weight="bold" fill="#000" stroke="#000" stroke-width="0.22" >4</text>
<text x="118.8" y="423.7" font-size="9.6" text-anchor="middle" font-weight="bold" fill="#000" stroke="#000" stroke-width="0.22" >6</text>
<text x="130.8" y="423.7" font-size="9.6" text-anchor="middle" font-weight="bold" fill="#000" stroke="#000" stroke-width="0.22" >8</text>
<text x="149.4" y="423.7" font-size="9.6" text-anchor="middle" font-weight="bold" fill="#000" stroke="#000" stroke-width="0.22" >0</text>
<text x="161.3" y="423.7" font-size="9.6" text-anchor="middle" font-weight="bold" fill="#000" stroke="#000" stroke-width="0.22" >2</text>
<text x="173.4" y="423.7" font-size="9.6" text-anchor="middle" font-weight="bold" fill="#000" stroke="#000" stroke-width="0.22" >4</text>
<text x="185.3" y="423.7" font-size="9.6" text-anchor="middle" font-weight="bold" fill="#000" stroke="#000" stroke-width="0.22" >6</text>
<text x="197.0" y="423.7" font-size="9.6" text-anchor="middle" font-weight="bold" fill="#000" stroke="#000" stroke-width="0.22" >8</text>
<text x="209.4" y="423.7" font-size="9.6" text-anchor="middle" font-weight="bold" fill="#000" stroke="#000" stroke-width="0.22" >0</text>
<text x="221.4" y="423.7" font-size="9.6" text-anchor="middle" font-weight="bold" fill="#000" stroke="#000" stroke-width="0.22" >2</text>
<text x="233.2" y="423.7" font-size="9.6" text-anchor="middle" font-weight="bold" fill="#000" stroke="#000" stroke-width="0.22" >4</text>
<text x="245.0" y="423.7" font-size="9.6" text-anchor="middle" font-weight="bold" fill="#000" stroke="#000" stroke-width="0.22" >6</text>
<text x="256.6" y="423.7" font-size="9.6" text-anchor="middle" font-weight="bold" fill="#000" stroke="#000" stroke-width="0.22" >8</text>
<rect x="16.0" y="427.6" width="121.69999999999999" height="10.599999999999966" fill="#dedede"/>
<g filter="url(#bl)">
<rect x="17.83" y="431.60" width="10.34" height="2.80" rx="0.80" fill="#9a9a9a"/>
<rect x="29.93" y="431.60" width="10.34" height="2.80" rx="0.80" fill="#8a8a8a"/>
<rect x="42.13" y="431.60" width="10.34" height="2.80" rx="0.80" fill="#888"/>
<rect x="54.23" y="431.60" width="10.34" height="2.80" rx="0.80" fill="#7e7e7e"/>
<rect x="65.83" y="431.60" width="10.34" height="2.80" rx="0.80" fill="#9a9a9a"/>
<rect x="77.93" y="431.60" width="10.34" height="2.80" rx="0.80" fill="#8c8c8c"/>
<rect x="89.83" y="431.60" width="10.34" height="2.80" rx="0.80" fill="#868686"/>
<rect x="101.63" y="431.60" width="10.34" height="2.80" rx="0.80" fill="#8a8a8a"/>
<rect x="113.63" y="431.60" width="10.34" height="2.80" rx="0.80" fill="#a4a4a4"/>
<rect x="125.63" y="431.60" width="10.34" height="2.80" rx="0.80" fill="#acacac"/>
</g>
<rect x="16.0" y="427.6" width="121.69999999999999" height="10.599999999999966" fill="none" stroke="#111" stroke-width="1.1"/>
<rect x="16.0" y="440.3" width="121.69999999999999" height="11.0" fill="#c2c2c2"/>
<g filter="url(#bl)">
<rect x="17.83" y="445.10" width="10.34" height="2.60" rx="0.80" fill="#b2b2b2"/>
<rect x="29.93" y="445.10" width="10.34" height="2.60" rx="0.80" fill="#b2b2b2"/>
<rect x="42.13" y="445.10" width="10.34" height="2.60" rx="0.80" fill="#b2b2b2"/>
<rect x="54.23" y="445.10" width="10.34" height="2.60" rx="0.80" fill="#b2b2b2"/>
<rect x="65.83" y="445.10" width="10.34" height="2.60" rx="0.80" fill="#b2b2b2"/>
<rect x="77.93" y="445.10" width="10.34" height="2.60" rx="0.80" fill="#b2b2b2"/>
<rect x="89.83" y="445.10" width="10.34" height="2.60" rx="0.80" fill="#b2b2b2"/>
<rect x="101.63" y="445.10" width="10.34" height="2.60" rx="0.80" fill="#b2b2b2"/>
<rect x="113.63" y="445.10" width="10.34" height="2.60" rx="0.80" fill="#b2b2b2"/>
<rect x="125.63" y="445.10" width="10.34" height="2.60" rx="0.80" fill="#b2b2b2"/>
</g>
<rect x="16.0" y="440.3" width="121.69999999999999" height="11.0" fill="none" stroke="#111" stroke-width="1.1"/>
<rect x="16.0" y="453.8" width="121.69999999999999" height="11.0" fill="#8a8a8a"/>
<g filter="url(#bl)">
<rect x="17.2" y="456.00" width="119.30" height="4.80" fill="#1e1e1e"/>
<rect x="17.22" y="455.90" width="11.56" height="5.00" rx="0.80" fill="#1a1a1a"/>
<rect x="29.32" y="455.90" width="11.56" height="5.00" rx="0.80" fill="#1a1a1a"/>
<rect x="41.52" y="455.90" width="11.56" height="5.00" rx="0.80" fill="#1a1a1a"/>
<rect x="53.62" y="455.90" width="11.56" height="5.00" rx="0.80" fill="#1a1a1a"/>
<rect x="65.22" y="455.90" width="11.56" height="5.00" rx="0.80" fill="#1a1a1a"/>
<rect x="77.32" y="455.90" width="11.56" height="5.00" rx="0.80" fill="#1a1a1a"/>
<rect x="89.22" y="455.90" width="11.56" height="5.00" rx="0.80" fill="#1a1a1a"/>
<rect x="101.02" y="455.90" width="11.56" height="5.00" rx="0.80" fill="#1a1a1a"/>
<rect x="113.02" y="455.90" width="11.56" height="5.00" rx="0.80" fill="#1a1a1a"/>
<rect x="125.02" y="455.90" width="11.56" height="5.00" rx="0.80" fill="#1a1a1a"/>
</g>
<rect x="16.0" y="453.8" width="121.69999999999999" height="11.0" fill="none" stroke="#111" stroke-width="1.1"/>
<rect x="143.6" y="427.6" width="122.00000000000003" height="10.599999999999966" fill="#e2e2e2"/>
<g filter="url(#bl)">
<rect x="144.22" y="432.70" width="10.37" height="2.60" rx="0.80" fill="#a0a0a0"/>
<rect x="156.12" y="432.70" width="10.37" height="2.60" rx="0.80" fill="#8a8a8a"/>
<rect x="168.22" y="432.70" width="10.37" height="2.60" rx="0.80" fill="#969696"/>
<rect x="180.12" y="432.70" width="10.37" height="2.60" rx="0.80" fill="#b0b0b0"/>
<rect x="191.81" y="432.70" width="10.37" height="2.60" rx="0.80" fill="#9a9a9a"/>
<rect x="204.22" y="432.70" width="10.37" height="2.60" rx="0.80" fill="#989898"/>
<rect x="216.22" y="432.70" width="10.37" height="2.60" rx="0.80" fill="#9c9c9c"/>
<rect x="228.01" y="432.70" width="10.37" height="2.60" rx="0.80" fill="#a8a8a8"/>
<rect x="239.81" y="432.70" width="10.37" height="2.60" rx="0.80" fill="#bcbcbc"/>
<rect x="251.42" y="432.70" width="10.37" height="2.60" rx="0.80" fill="#c0c0c0"/>
</g>
<rect x="143.6" y="427.6" width="122.00000000000003" height="10.599999999999966" fill="none" stroke="#111" stroke-width="1.1"/>
<rect x="143.6" y="440.3" width="122.00000000000003" height="11.0" fill="#c6c6c6"/>
<g filter="url(#bl)">
<rect x="143.91" y="444.90" width="10.98" height="3.00" rx="0.80" fill="#5a5a5a"/>
<rect x="155.81" y="444.90" width="10.98" height="3.00" rx="0.80" fill="#5a5a5a"/>
<rect x="167.91" y="444.90" width="10.98" height="3.00" rx="0.80" fill="#5a5a5a"/>
<rect x="179.81" y="444.90" width="10.98" height="3.00" rx="0.80" fill="#5a5a5a"/>
<rect x="191.51" y="444.90" width="10.98" height="3.00" rx="0.80" fill="#5a5a5a"/>
<rect x="203.91" y="444.90" width="10.98" height="3.00" rx="0.80" fill="#5a5a5a"/>
<rect x="215.91" y="444.90" width="10.98" height="3.00" rx="0.80" fill="#5a5a5a"/>
<rect x="227.71" y="444.90" width="10.98" height="3.00" rx="0.80" fill="#5a5a5a"/>
<rect x="239.51" y="444.90" width="10.98" height="3.00" rx="0.80" fill="#5a5a5a"/>
<rect x="251.11" y="444.90" width="10.98" height="3.00" rx="0.80" fill="#5a5a5a"/>
</g>
<rect x="143.6" y="440.3" width="122.00000000000003" height="11.0" fill="none" stroke="#111" stroke-width="1.1"/>
<rect x="143.6" y="453.8" width="122.00000000000003" height="11.0" fill="#8a8a8a"/>
<g filter="url(#bl)">
<rect x="144.79999999999998" y="456.00" width="119.60" height="4.80" fill="#1e1e1e"/>
<rect x="143.61" y="455.90" width="11.59" height="5.00" rx="0.80" fill="#1a1a1a"/>
<rect x="155.51" y="455.90" width="11.59" height="5.00" rx="0.80" fill="#1a1a1a"/>
<rect x="167.61" y="455.90" width="11.59" height="5.00" rx="0.80" fill="#1a1a1a"/>
<rect x="179.51" y="455.90" width="11.59" height="5.00" rx="0.80" fill="#1a1a1a"/>
<rect x="191.21" y="455.90" width="11.59" height="5.00" rx="0.80" fill="#1a1a1a"/>
<rect x="203.61" y="455.90" width="11.59" height="5.00" rx="0.80" fill="#1a1a1a"/>
<rect x="215.61" y="455.90" width="11.59" height="5.00" rx="0.80" fill="#1a1a1a"/>
<rect x="227.41" y="455.90" width="11.59" height="5.00" rx="0.80" fill="#1a1a1a"/>
<rect x="239.21" y="455.90" width="11.59" height="5.00" rx="0.80" fill="#1a1a1a"/>
<rect x="250.81" y="455.90" width="11.59" height="5.00" rx="0.80" fill="#1a1a1a"/>
</g>
<rect x="143.6" y="453.8" width="122.00000000000003" height="11.0" fill="none" stroke="#111" stroke-width="1.1"/>
<text x="271.0" y="436.9" font-size="9.6" text-anchor="start" font-weight="bold" fill="#000" stroke="#000" stroke-width="0.22" >-BCR-ABL</text>
<text x="271.0" y="449.3" font-size="9.6" text-anchor="start" font-weight="bold" fill="#000" stroke="#000" stroke-width="0.22" >-CHIP</text>
<text x="271.0" y="462.2" font-size="9.6" text-anchor="start" font-weight="bold" fill="#000" stroke="#000" stroke-width="0.22" >-actin</text>
<text x="309.8" y="296.0" font-size="16" text-anchor="start" font-weight="bold" fill="#000" stroke="#000" stroke-width="0.22" >C</text>
<rect x="307.8" y="313.8" width="28.19999999999999" height="12.0" fill="#fff" stroke="#333" stroke-width="1.1"/>
<text x="310.2" y="324.3" font-size="9.6" text-anchor="start" font-weight="bold" fill="#000" stroke="#000" stroke-width="0.22" >K562</text>
<text x="390.0" y="288.0" font-size="9.6" text-anchor="end" font-weight="bold" fill="#000" stroke="#000" stroke-width="0.22" >siRNA</text>
<text x="390.0" y="300.7" font-size="9.6" text-anchor="end" font-weight="bold" fill="#000" stroke="#000" stroke-width="0.22" >GA</text>
<text x="408.6" y="288.2" font-size="9.6" text-anchor="middle" font-weight="bold" fill="#000" stroke="#000" stroke-width="0.22" >(-)</text>
<text x="435.7" y="287.6" font-size="9.6" text-anchor="middle" font-weight="bold" fill="#000" stroke="#000" stroke-width="0.22" >CHIP</text>
<text x="461.3" y="287.8" font-size="9.6" text-anchor="middle" font-weight="bold" fill="#000" stroke="#000" stroke-width="0.22" >Cbl</text>
<text x="488.4" y="280.7" font-size="9.6" text-anchor="middle" font-weight="bold" fill="#000" stroke="#000" stroke-width="0.22" >CHIP</text>
<text x="488.4" y="289.2" font-size="9.6" text-anchor="middle" font-weight="bold" fill="#000" stroke="#000" stroke-width="0.22" >+ Cbl</text>
<line x1="398.0" y1="291.8" x2="420.2" y2="291.8" stroke="#444" stroke-width="1.4"/>
<line x1="424.4" y1="291.8" x2="446.9" y2="291.8" stroke="#444" stroke-width="1.4"/>
<line x1="451.0" y1="291.8" x2="473.4" y2="291.8" stroke="#444" stroke-width="1.4"/>
<line x1="477.1" y1="291.8" x2="499.9" y2="291.8" stroke="#444" stroke-width="1.4"/>
<text x="401.3" y="301.8" font-size="9.6" text-anchor="middle" font-weight="bold" fill="#000" stroke="#000" stroke-width="0.22" >-</text>
<text x="414.5" y="301.8" font-size="9.6" text-anchor="middle" font-weight="bold" fill="#000" stroke="#000" stroke-width="0.22" >+</text>
<text x="427.8" y="301.8" font-size="9.6" text-anchor="middle" font-weight="bold" fill="#000" stroke="#000" stroke-width="0.22" >-</text>
<text x="441.1" y="301.8" font-size="9.6" text-anchor="middle" font-weight="bold" fill="#000" stroke="#000" stroke-width="0.22" >+</text>
<text x="454.4" y="301.8" font-size="9.6" text-anchor="middle" font-weight="bold" fill="#000" stroke="#000" stroke-width="0.22" >-</text>
<text x="467.7" y="301.8" font-size="9.6" text-anchor="middle" font-weight="bold" fill="#000" stroke="#000" stroke-width="0.22" >+</text>
<text x="480.9" y="301.8" font-size="9.6" text-anchor="middle" font-weight="bold" fill="#000" stroke="#000" stroke-width="0.22" >-</text>
<text x="494.2" y="301.8" font-size="9.6" text-anchor="middle" font-weight="bold" fill="#000" stroke="#000" stroke-width="0.22" >+</text>
<linearGradient id="g8" x1="0" y1="0" x2="0" y2="1"><stop offset="0" stop-color="#a8a8a8"/><stop offset="1" stop-color="#c8c8c8"/></linearGradient>
<rect x="397.2" y="305.5" width="102.80000000000001" height="11.0" fill="url(#g8)"/>
<g filter="url(#bl)">
<rect x="398.36" y="309.70" width="10.54" height="2.60" rx="0.80" fill="#666"/>
<rect x="411.21" y="309.90" width="10.54" height="2.60" rx="0.80" fill="#9c9c9c"/>
<rect x="424.06" y="308.23" width="10.54" height="2.34" rx="0.80" fill="#454545"/>
<rect x="436.91" y="309.30" width="10.54" height="2.60" rx="0.80" fill="#8c8c8c"/>
<rect x="449.76" y="309.30" width="10.54" height="2.60" rx="0.80" fill="#7a7a7a"/>
<rect x="462.61" y="309.30" width="10.54" height="2.60" rx="0.80" fill="#a8a8a8"/>
<rect x="475.46" y="309.30" width="10.54" height="2.60" rx="0.80" fill="#7a7a7a"/>
<rect x="488.31" y="309.30" width="10.54" height="2.60" rx="0.80" fill="#8c8c8c"/>
</g>
<rect x="397.2" y="305.5" width="102.80000000000001" height="11.0" fill="none" stroke="#111" stroke-width="1.1"/>
<text x="393.2" y="314.5" font-size="9.6" text-anchor="end" font-weight="bold" fill="#000" stroke="#000" stroke-width="0.22" >BCR-ABL-</text>
<rect x="397.2" y="319.0" width="102.80000000000001" height="10.800000000000011" fill="#8e8e8e"/>
<g filter="url(#bl)">
<rect x="398.36" y="322.60" width="10.54" height="3.20" rx="0.80" fill="#5c5c5c"/>
<rect x="411.21" y="322.60" width="10.54" height="3.20" rx="0.80" fill="#5a5a5a"/>
<rect x="424.06" y="322.60" width="10.54" height="3.20" rx="0.80" fill="#848484"/>
<rect x="436.91" y="322.60" width="10.54" height="3.20" rx="0.80" fill="#868686"/>
<rect x="449.76" y="322.60" width="10.54" height="3.20" rx="0.80" fill="#404040"/>
<rect x="462.61" y="322.60" width="10.54" height="3.20" rx="0.80" fill="#424242"/>
<rect x="475.46" y="322.60" width="10.54" height="3.20" rx="0.80" fill="#878787"/>
<rect x="488.31" y="322.60" width="10.54" height="3.20" rx="0.80" fill="#888"/>
</g>
<rect x="397.2" y="319.0" width="102.80000000000001" height="10.800000000000011" fill="none" stroke="#111" stroke-width="1.1"/>
<text x="393.2" y="328.0" font-size="9.6" text-anchor="end" font-weight="bold" fill="#000" stroke="#000" stroke-width="0.22" >CHIP-</text>
<rect x="397.2" y="332.2" width="102.80000000000001" height="11.199999999999989" fill="#c6c6c6"/>
<g filter="url(#bl)">
<rect x="398.36" y="336.30" width="10.54" height="2.60" rx="0.80" fill="#7a7a7a"/>
<rect x="411.21" y="336.30" width="10.54" height="2.60" rx="0.80" fill="#7a7a7a"/>
<rect x="424.06" y="336.30" width="10.54" height="2.60" rx="0.80" fill="#727272"/>
<rect x="436.91" y="336.30" width="10.54" height="2.60" rx="0.80" fill="#767676"/>
<rect x="449.76" y="336.30" width="10.54" height="2.60" rx="0.80" fill="#b0b0b0"/>
<rect x="462.61" y="336.30" width="10.54" height="2.60" rx="0.80" fill="#b4b4b4"/>
<rect x="475.46" y="336.30" width="10.54" height="2.60" rx="0.80" fill="#b8b8b8"/>
<rect x="488.31" y="336.30" width="10.54" height="2.60" rx="0.80" fill="#949494"/>
</g>
<rect x="397.2" y="332.2" width="102.80000000000001" height="11.199999999999989" fill="none" stroke="#111" stroke-width="1.1"/>
<text x="393.2" y="341.2" font-size="9.6" text-anchor="end" font-weight="bold" fill="#000" stroke="#000" stroke-width="0.22" >Cbl-</text>
<linearGradient id="g9" x1="0" y1="0" x2="0" y2="1"><stop offset="0" stop-color="#b0b0b0"/><stop offset="1" stop-color="#cccccc"/></linearGradient>
<rect x="397.2" y="345.6" width="102.80000000000001" height="10.0" fill="url(#g9)"/>
<g filter="url(#bl)">
<rect x="398.36" y="348.30" width="10.54" height="2.60" rx="0.80" fill="#333"/>
<rect x="411.21" y="348.30" width="10.54" height="2.60" rx="0.80" fill="#333"/>
<rect x="424.06" y="348.30" width="10.54" height="2.60" rx="0.80" fill="#333"/>
<rect x="436.91" y="348.30" width="10.54" height="2.60" rx="0.80" fill="#333"/>
<rect x="449.76" y="348.30" width="10.54" height="2.60" rx="0.80" fill="#333"/>
<rect x="462.61" y="348.30" width="10.54" height="2.60" rx="0.80" fill="#333"/>
<rect x="475.46" y="348.30" width="10.54" height="2.60" rx="0.80" fill="#333"/>
<rect x="488.31" y="348.30" width="10.54" height="2.60" rx="0.80" fill="#333"/>
</g>
<rect x="397.2" y="345.6" width="102.80000000000001" height="10.0" fill="none" stroke="#111" stroke-width="1.1"/>
<text x="393.2" y="354.6" font-size="9.6" text-anchor="end" font-weight="bold" fill="#000" stroke="#000" stroke-width="0.22" >actin-</text>
<rect x="391.2" y="365.8" width="113.0" height="48.599999999999966" fill="none" stroke="#000" stroke-width="1.6"/>
<line x1="391.2" y1="382.10" x2="394.2" y2="382.10" stroke="#000" stroke-width="1.6"/>
<line x1="391.2" y1="398.20" x2="394.2" y2="398.20" stroke="#000" stroke-width="1.6"/>
<text x="388.8" y="368.8" font-size="8.4" text-anchor="end" font-weight="bold" fill="#000" stroke="#000" stroke-width="0.22" >150</text>
<text x="388.8" y="384.9" font-size="8.4" text-anchor="end" font-weight="bold" fill="#000" stroke="#000" stroke-width="0.22" >100</text>
<text x="388.8" y="401.3" font-size="8.4" text-anchor="end" font-weight="bold" fill="#000" stroke="#000" stroke-width="0.22" >50</text>
<text x="388.8" y="416.6" font-size="8.4" text-anchor="end" font-weight="bold" fill="#000" stroke="#000" stroke-width="0.22" >0</text>
<rect x="398.4" y="382.10" width="7.4" height="32.30" fill="#4646b6" stroke="#1c1c5c" stroke-width="0.9"/>
<rect x="411.5" y="398.84" width="7.4" height="15.56" fill="#ff3212" stroke="#5a0c00" stroke-width="0.9"/>
<rect x="424.4" y="367.29" width="7.4" height="47.11" fill="#4646b6" stroke="#1c1c5c" stroke-width="0.9"/>
<rect x="437.4" y="394.01" width="7.4" height="20.39" fill="#ff3212" stroke="#5a0c00" stroke-width="0.9"/>
<rect x="450.6" y="382.74" width="7.4" height="31.66" fill="#4646b6" stroke="#1c1c5c" stroke-width="0.9"/>
<rect x="463.4" y="402.71" width="7.4" height="11.69" fill="#ff3212" stroke="#5a0c00" stroke-width="0.9"/>
<rect x="476.2" y="381.78" width="7.4" height="32.62" fill="#4646b6" stroke="#1c1c5c" stroke-width="0.9"/>
<rect x="489.1" y="388.22" width="7.4" height="26.18" fill="#ff3212" stroke="#5a0c00" stroke-width="0.9"/>
<text x="340.0" y="386.9" font-size="9.4" text-anchor="middle" font-weight="bold" fill="#000" stroke="#000" stroke-width="0.22" >BCR-ABL</text>
<text x="339.6" y="396.6" font-size="8.2" text-anchor="middle" font-weight="normal" fill="#000" stroke="#000" stroke-width="0.22" >(% of untreated)</text>
<text x="402.6" y="425.9" font-size="9.6" text-anchor="end" font-weight="bold" fill="#000" stroke="#000" stroke-width="0.22" >GA-</text>
<text x="402.6" y="425.9" font-size="9.6" text-anchor="start" font-weight="bold" fill="#000" stroke="#000" stroke-width="0.22" ></text>
<text x="413.8" y="425.9" font-size="9.6" text-anchor="middle" font-weight="bold" fill="#000" stroke="#000" stroke-width="0.22" >+</text>
<text x="427.3" y="425.9" font-size="9.6" text-anchor="middle" font-weight="bold" fill="#000" stroke="#000" stroke-width="0.22" >-</text>
<text x="439.8" y="425.9" font-size="9.6" text-anchor="middle" font-weight="bold" fill="#000" stroke="#000" stroke-width="0.22" >+</text>
<text x="453.9" y="425.9" font-size="9.6" text-anchor="middle" font-weight="bold" fill="#000" stroke="#000" stroke-width="0.22" >-</text>
<text x="466.3" y="425.9" font-size="9.6" text-anchor="middle" font-weight="bold" fill="#000" stroke="#000" stroke-width="0.22" >+</text>
<text x="479.3" y="425.9" font-size="9.6" text-anchor="middle" font-weight="bold" fill="#000" stroke="#000" stroke-width="0.22" >-</text>
<text x="492.7" y="425.9" font-size="9.6" text-anchor="middle" font-weight="bold" fill="#000" stroke="#000" stroke-width="0.22" >+</text>
<line x1="396.5" y1="427.8" x2="418.2" y2="427.8" stroke="#555" stroke-width="1.3"/>
<line x1="422.8" y1="427.8" x2="444.7" y2="427.8" stroke="#555" stroke-width="1.3"/>
<line x1="449.4" y1="427.8" x2="471.5" y2="427.8" stroke="#555" stroke-width="1.3"/>
<line x1="475.3" y1="427.8" x2="497.8" y2="427.8" stroke="#555" stroke-width="1.3"/>
<text x="389.6" y="437.3" font-size="9.6" text-anchor="end" font-weight="bold" fill="#000" stroke="#000" stroke-width="0.22" >siRNA</text>
<text x="407.1" y="438.2" font-size="9.6" text-anchor="middle" font-weight="bold" fill="#000" stroke="#000" stroke-width="0.22" >(-)</text>
<text x="434.2" y="437.7" font-size="9.6" text-anchor="middle" font-weight="bold" fill="#000" stroke="#000" stroke-width="0.22" >CHIP</text>
<text x="460.1" y="437.7" font-size="9.6" text-anchor="middle" font-weight="bold" fill="#000" stroke="#000" stroke-width="0.22" >Cbl</text>
<text x="487.1" y="437.7" font-size="9.6" text-anchor="middle" font-weight="bold" fill="#000" stroke="#000" stroke-width="0.22" >CHIP</text>
<text x="487.1" y="446.7" font-size="9.6" text-anchor="middle" font-weight="bold" fill="#000" stroke="#000" stroke-width="0.22" >+Cbl</text>
</svg>
</body></html>
